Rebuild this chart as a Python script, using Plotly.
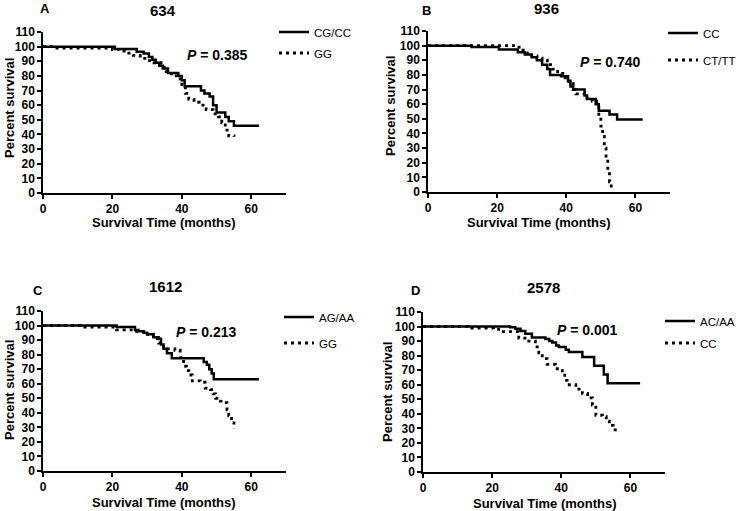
import plotly.graph_objects as go

W, H = 736, 511

# ---------------- data ----------------
panel_letters = ["A", "B", "C", "D"]
panel_titles = ["634", "936", "1612", "2578"]
p_values = ["0.385", "0.740", "0.213", "0.001"]
solid_names = ["CG/CC", "CC", "AG/AA", "AC/AA"]
dotted_names = ["GG", "CT/TT", "GG", "CC"]
x_title = "Survival Time (months)"
y_title = "Percent survival"

# Panel A (634)
a_solid_t = [0, 20.7, 27, 29, 30.5, 31.5, 32.5, 33.5, 34.5, 36, 39, 40, 40.8, 45.5, 46.5, 48, 49, 50, 52.5, 53.5, 55, 62.2]
a_solid_s = [100, 98.3, 96.5, 95.3, 93, 91, 89, 87, 85, 82, 80, 77, 73, 70, 68, 66, 60, 55, 52, 49, 46, 46]
a_dot_t = [0, 3, 20, 22, 24, 26, 28, 30, 32, 34, 35.5, 37, 38.5, 40, 41, 42, 43.5, 45, 47, 49, 50.5, 51.5, 52.5, 53.5, 55]
a_dot_s = [100, 99, 98, 97, 95.5, 94, 92, 90.5, 89, 86, 83, 80, 78, 74, 68, 64, 62, 60, 57, 54, 52, 48, 43, 39, 38.5]

# Panel B (936)
b_solid_t = [0, 12.6, 20.5, 26, 28, 30, 31.5, 33, 34.5, 35.3, 38.5, 40.5, 41.2, 42, 45.3, 46, 48.5, 49.4, 52.5, 54.7, 62.1]
b_solid_s = [100, 99, 97.3, 95.5, 94, 92, 90, 87, 84, 80, 79, 76, 72, 70, 66, 63.5, 60, 55.5, 53, 49.5, 49.5]
b_dot_t = [0, 25.5, 27, 28.5, 30, 31.5, 33, 34.5, 36, 37.5, 39, 40.7, 42, 42.8, 44.5, 46, 47.5, 48.8, 49.4, 50, 50.5, 51, 51.5, 52, 52.5, 53]
b_dot_s = [100, 99, 97, 95, 93, 91.5, 90, 87, 84, 81, 78, 74, 70, 67, 67, 64, 62, 60, 53, 45, 38, 30, 22, 14, 7, 1]

# Panel C (1612)
c_solid_t = [0, 21.2, 26.5, 27.5, 29, 30, 31.8, 33.3, 34, 34.7, 35.7, 37.1, 45.5, 46.3, 47.2, 47.9, 48.6, 49.2, 62.2]
c_solid_s = [100, 99, 97, 96, 95, 94, 92, 91, 87, 84, 81, 77.5, 77.5, 75, 73, 70, 67, 63, 63]
c_dot_t = [0, 10.6, 21.2, 26, 29, 31.8, 33.3, 34.7, 38, 39.5, 40.5, 41.3, 42, 43, 45.3, 46.7, 48.2, 49, 49.7, 51.1, 52.1, 53, 53.5, 54.3, 55]
c_dot_s = [100, 99, 97, 96, 94, 91, 88, 84, 83, 78, 72, 69, 66, 62, 61, 57, 56, 53, 50, 48, 47, 42, 38, 33, 29]

# Panel D (2578)
d_solid_t = [0, 25.2, 26.7, 28.2, 29.6, 31.5, 32.5, 35.4, 36.5, 37.4, 38.5, 39.3, 41.3, 42.2, 46.1, 48.5, 49.5, 51.5, 52.3, 53.4, 62.8]
d_solid_s = [100, 99.5, 98.5, 97, 95, 92.5, 92.5, 91.5, 90, 89, 87, 86, 84, 82.5, 79, 79, 73, 73, 67, 61, 61]
d_dot_t = [0, 13, 20.4, 22.8, 26.2, 27.7, 30.6, 32.5, 33.5, 34.5, 35.9, 38.3, 40.3, 41, 41.7, 44.2, 46.1, 47.6, 49, 50, 51.9, 53, 53.9, 55, 56.6]
d_dot_s = [100, 99, 98, 96.5, 96.5, 92, 90, 86, 82, 78, 74, 71, 68, 63, 60, 57, 54, 51, 46, 39, 38, 35, 32, 29, 28]

x_ticks = [0, 20, 40, 60]
y_ticks = list(range(0, 111, 10))

series = [
    (a_solid_t, a_solid_s, a_dot_t, a_dot_s),
    (b_solid_t, b_solid_s, b_dot_t, b_dot_s),
    (c_solid_t, c_solid_s, c_dot_t, c_dot_s),
    (d_solid_t, d_solid_s, d_dot_t, d_dot_s),
]

# ---------------- layout geometry (pixels) ----------------
areas = [(43, 286, 32, 193), (428, 670, 31, 192), (43, 286, 311, 471), (423, 665, 312, 472)]
title_pos = [(163, 10), (546, 9), (165, 286), (543, 287)]
letter_pos = [(45, 9), (426, 10), (38, 290), (416, 290)]
p_pos = [(217, 55), (610, 62), (206, 332), (587, 330)]
legend_pos = [[(310, 32), (310, 53)], [(699, 33), (699, 60)], [(315, 317), (315, 343)], [(696, 321), (696, 343)]]
xtitle_pos = [(164, 222), (539, 222), (164, 502), (545, 503)]
ytitle_pos = [(9, 108), (390, 106), (9, 390), (387, 392)]

FONT = "Liberation Sans, Arial, sans-serif"

def px(x):
    return x / W

def py(y):
    return 1 - y / H

fig = go.Figure()
layout = dict(
    width=W, height=H, margin=dict(l=0, r=0, t=0, b=0, autoexpand=False),
    paper_bgcolor="white", plot_bgcolor="white",
    font=dict(family=FONT, color="black"),
    showlegend=True,
)
annotations = []
leg_idx = 0
for i in range(4):
    l, r, t, b = areas[i]
    xa = "xaxis" if i == 0 else f"xaxis{i+1}"
    ya = "yaxis" if i == 0 else f"yaxis{i+1}"
    xr = "x" if i == 0 else f"x{i+1}"
    yr = "y" if i == 0 else f"y{i+1}"
    layout[xa] = dict(
        domain=[px(l), px(r)], anchor=yr, range=[0, 70], tickvals=x_ticks,
        showgrid=False, zeroline=False, showline=True, linecolor="black", linewidth=1.5,
        ticks="outside", ticklen=4, tickwidth=1.5, tickcolor="black",
        tickfont=dict(size=12, family=FONT, color="black", weight="bold"),
        automargin=False, fixedrange=True,
    )
    layout[ya] = dict(
        domain=[py(b), py(t)], anchor=xr, range=[0, 110], tickvals=y_ticks,
        showgrid=False, zeroline=False, showline=True, linecolor="black", linewidth=1.5,
        ticks="outside", ticklen=4, tickwidth=1.5, tickcolor="black",
        tickfont=dict(size=12, family=FONT, color="black", weight="bold"),
        automargin=False, fixedrange=True,
    )
    st, ss, dt, ds = series[i]
    names = [solid_names[i], dotted_names[i]]
    for k, (tt, sv, dash) in enumerate([(st, ss, "solid"), (dt, ds, "3px,4px")]):
        leg_idx += 1
        lname = "legend" if leg_idx == 1 else f"legend{leg_idx}"
        fig.add_trace(go.Scatter(
            x=tt, y=sv, mode="lines", line=dict(color="black", width=2.5 if k == 0 else 2.8, dash=dash, shape="hv"),
            name=names[k], xaxis=xr, yaxis=yr, legend=lname, hoverinfo="skip",
        ))
        lx, ly = legend_pos[i][k]
        layout[lname] = dict(
            x=px(lx - 36), y=py(ly), xanchor="left", yanchor="middle",
            bgcolor="rgba(0,0,0,0)", borderwidth=0,
            font=dict(size=11.5, family=FONT, color="black"),
            itemwidth=30, tracegroupgap=0,
        )
    tx, ty = title_pos[i]
    annotations.append(dict(text=f"<b>{panel_titles[i]}</b>", x=px(tx), y=py(ty), xref="paper", yref="paper",
                            showarrow=False, font=dict(size=15, family=FONT), xanchor="center", yanchor="middle"))
    lx, ly = letter_pos[i]
    annotations.append(dict(text=f"<b>{panel_letters[i]}</b>", x=px(lx), y=py(ly), xref="paper", yref="paper",
                            showarrow=False, font=dict(size=13, family=FONT), xanchor="center", yanchor="middle"))
    ppx, ppy = p_pos[i]
    annotations.append(dict(text=f"<b><i>P</i> = {p_values[i]}</b>", x=px(ppx), y=py(ppy), xref="paper", yref="paper",
                            showarrow=False, font=dict(size=14, family=FONT), xanchor="center", yanchor="middle"))
    xtx, xty = xtitle_pos[i]
    annotations.append(dict(text=f"<b>{x_title}</b>", x=px(xtx), y=py(xty), xref="paper", yref="paper",
                            showarrow=False, font=dict(size=13, family=FONT), xanchor="center", yanchor="middle"))
    ytx, yty = ytitle_pos[i]
    annotations.append(dict(text=f"<b>{y_title}</b>", x=px(ytx), y=py(yty), xref="paper", yref="paper",
                            showarrow=False, textangle=-90, font=dict(size=13, family=FONT),
                            xanchor="center", yanchor="middle"))

layout["annotations"] = annotations
fig.update_layout(**layout)
fig.write_html("out.html", post_script="document.body.style.margin='0';",
               config={"displayModeBar": False})
